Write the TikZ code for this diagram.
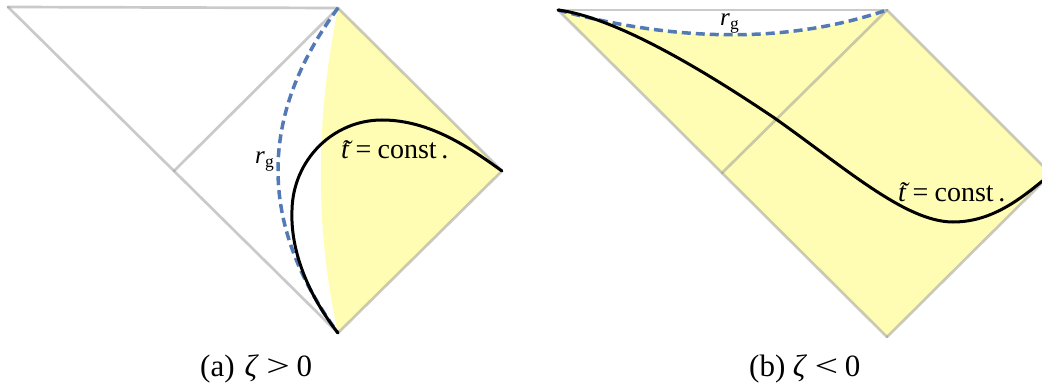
\documentclass[tikz,border=0pt]{standalone}
\usepackage{fontspec}
\setmainfont{Liberation Serif}
\definecolor{yfill}{RGB}{255,253,180}
\definecolor{gline}{RGB}{150,150,150}
\definecolor{rgblue}{RGB}{84,122,181}
\newcommand{\tldt}{\textit{\makebox[0pt][l]{\makebox[0.36em][c]{\raisebox{-0.02em}{\char"02DC}}}t}}
\newcommand{\relsym}[1]{\scalebox{1.35}[1]{#1}}
\begin{document}
\begin{tikzpicture}[x=1pt,y=-1pt,
  grayline/.style={draw=gline,draw opacity=0.5,line width=2.7pt,line cap=round},
  yellowregion/.style={fill=yfill},
  horizon/.style={draw=rgblue,line width=3.5pt,dash pattern=on 9pt off 5pt},
  slice/.style={draw=black,line width=3pt,line cap=round},
  lab/.style={inner sep=0pt,anchor=base west,font=\fontsize{28}{32}\selectfont},
  rlab/.style={inner sep=0pt,anchor=base west,font=\fontsize{25}{29}\selectfont},
  captext/.style={inner sep=0pt,anchor=base west,font=\fontsize{31}{35}\selectfont}]
\useasboundingbox (0,0) rectangle (1042,385);
\begin{scope}
\clip (0,0) rectangle (1042,385);
% ---- left diagram (a)
\coordinate (A1) at (8,7);
\coordinate (A2) at (338,8);
\coordinate (A3) at (174,171);
\coordinate (A4) at (338,333);
\coordinate (A5) at (502,171);
\fill[yellowregion] (A2) .. controls (315,122) and (315,230) .. (A4) -- (A5) -- cycle;
\draw[grayline] (A1) -- (A2);
\draw[grayline] (A1) -- (A4);
\draw[grayline] (A3) -- (A2);
\draw[grayline] (A2) -- (A5);
\draw[grayline] (A5) -- (A4);
\draw[horizon] (A2) .. controls (258,116) and (258,224) .. (A4);
\draw[slice] (A4) .. controls (312,300) and (290,255) .. (292,210)
  .. controls (293,160) and (333,120) .. (382,120)
  .. controls (430,120) and (470,148) .. (A5);
\node[lab] (ta) at (341,159) {\tldt\hspace{0.22em}=\hspace{0.22em}const\,.};
\node[rlab] (ra) at (255,164) {\textit{r}\textsubscript{g}};
% ---- right diagram (b)
\coordinate (B1) at (558,10);
\coordinate (B2) at (887,10);
\coordinate (B3) at (722,173);
\coordinate (B4) at (887,337);
\coordinate (B5) at (1051,174);
\fill[yellowregion] (B1) .. controls (680,43) and (790,43) .. (B2) -- (B5) -- (B4) -- cycle;
\draw[grayline] (B1) -- (B2);
\draw[grayline] (B1) -- (B4);
\draw[grayline] (B3) -- (B2);
\draw[grayline] (B2) -- (B5);
\draw[grayline] (B5) -- (B4);
\draw[horizon] (B1) .. controls (680,43) and (790,43) .. (B2);
\draw[slice] (B1) .. controls (620,18) and (715,78) .. (773,117)
  .. controls (843,166) and (905,222) .. (953,222)
  .. controls (995,222) and (1025,195) .. (B5);
\node[lab] (tb) at (898,201) {\tldt\hspace{0.22em}=\hspace{0.22em}const\,.};
\node[rlab] (rb) at (720,26) {\textit{r}\textsubscript{g}};
\end{scope}
% ---- captions
\node[captext] (capa) at (200,376) {(a)\hspace{0.32em}\textit{ζ}\hspace{0.24em}\relsym{>}\hspace{0.22em}0};
\node[captext] (capb) at (749,376) {(b)\hspace{0.24em}\textit{ζ}\hspace{0.24em}\relsym{<}\hspace{0.22em}0};
\end{tikzpicture}
\end{document}
